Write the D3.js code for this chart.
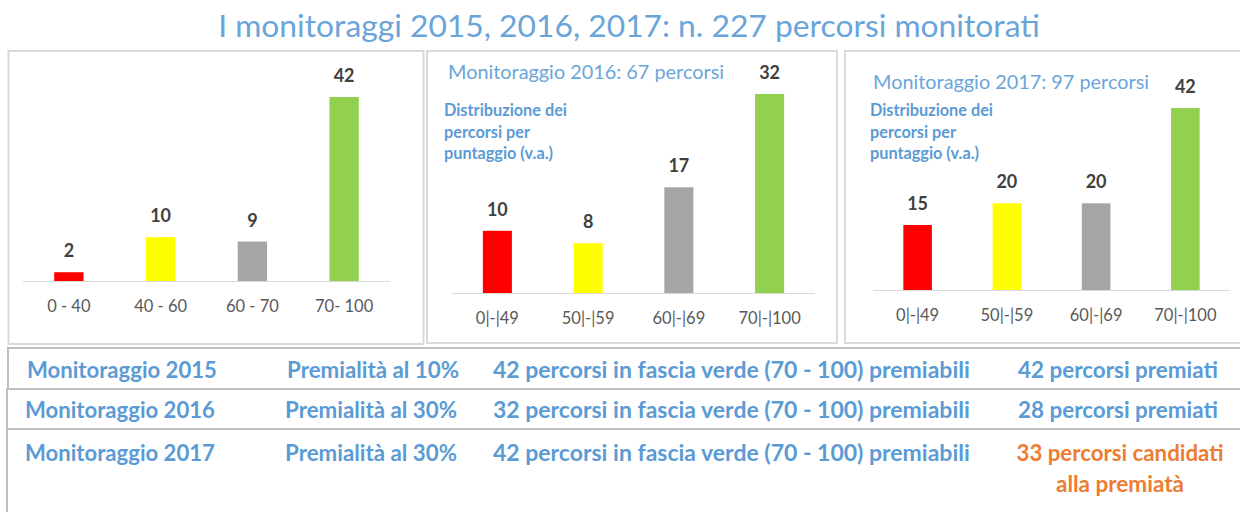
<!DOCTYPE html>
<html>
<head>
<meta charset="utf-8">
<script src="https://cdn.jsdelivr.net/npm/d3@7"></script>
<style>
  body { margin: 0; background: #fff; }
  svg { display: block; font-family: Lato, "Open Sans", sans-serif; }
</style>
</head>
<body>
<svg id="chart" width="1240" height="512"></svg>
<script>
// data
const mainTitle = "I monitoraggi 2015, 2016, 2017: n. 227 percorsi monitorati";
const cats2015 = ["0 - 40", "40 - 60", "60 - 70", "70- 100"];
const vals2015 = [2, 10, 9, 42];
const cats2016 = ["0|-|49", "50|-|59", "60|-|69", "70|-|100"];
const vals2016 = [10, 8, 17, 32];
const cats2017 = ["0|-|49", "50|-|59", "60|-|69", "70|-|100"];
const vals2017 = [15, 20, 20, 42];
const barColors = ["#ff0000", "#ffff00", "#a5a5a5", "#92d050"];
const subtitleLines = ["Distribuzione dei", "percorsi per", "puntaggio (v.a.)"];

const rowYears = ["Monitoraggio 2015", "Monitoraggio 2016", "Monitoraggio 2017"];
const rowPremialita = ["Premialità al 10%", "Premialità al 30%", "Premialità al 30%"];
const rowPremiabili = ["42 percorsi in fascia verde (70 - 100) premiabili",
                       "32 percorsi in fascia verde (70 - 100) premiabili",
                       "42 percorsi in fascia verde (70 - 100) premiabili"];
const rowEsito = [["42 percorsi premiati"], ["28 percorsi premiati"], ["33 percorsi candidati", "alla premiatà"]];

const blue = "#5b9bd5";
const svg = d3.select("#chart");

// shrink/grow font so the text takes the given width
function fit(sel, w) {
    sel.each(function () {
        const t = d3.select(this);
        const fs = parseFloat(t.attr("font-size"));
        const len = this.getComputedTextLength();
        t.attr("font-size", (fs * w / len).toFixed(2));
    });
}

svg.append("text")
    .attr("x", 629).attr("y", 37)
    .attr("text-anchor", "middle")
    .attr("font-size", 30)
    .attr("fill", "#6aa5da")
    .text(mainTitle)
    .call(fit, 822);

// panels
const panels = [
    {box: [8.5, 51, 415, 293], cats: cats2015, vals: vals2015, x0: 23, x1: 390, base: 281, top: 97, max: 42},
    {box: [427, 51, 410, 292], cats: cats2016, vals: vals2016, x0: 452, x1: 815, base: 293, top: 94, max: 32,
        title: "Monitoraggio 2016: 67 percorsi", tx: 448, ty: 79, sx: 444},
    {box: [845, 51, 410, 292], cats: cats2017, vals: vals2017, x0: 873, x1: 1230, base: 290, top: 108, max: 42,
        title: "Monitoraggio 2017: 97 percorsi", tx: 873, ty: 89, sx: 870}
];

panels.forEach(p => {
    const g = svg.append("g");
    g.append("rect")
        .attr("x", p.box[0]).attr("y", p.box[1])
        .attr("width", p.box[2]).attr("height", p.box[3])
        .attr("fill", "#fff")
        .attr("stroke", "#d9d9d9").attr("stroke-width", 2);

    const x = d3.scaleBand().domain(p.cats).range([p.x0, p.x1])
        .paddingInner(0.68).paddingOuter(0.34);
    const y = d3.scaleLinear().domain([0, p.max]).range([p.base, p.top]);

    g.selectAll(".bar").data(p.vals).join("rect")
        .attr("class", "bar")
        .attr("x", (d, i) => x(p.cats[i]))
        .attr("y", d => y(d))
        .attr("width", x.bandwidth())
        .attr("height", d => y(0) - y(d))
        .attr("fill", (d, i) => barColors[i]);

    g.append("line")
        .attr("x1", p.x0).attr("x2", p.x1)
        .attr("y1", p.base + 0.5).attr("y2", p.base + 0.5)
        .attr("stroke", "#d9d9d9").attr("stroke-width", 1);

    g.selectAll(".val").data(p.vals).join("text")
        .attr("class", "val")
        .attr("x", (d, i) => x(p.cats[i]) + x.bandwidth() / 2)
        .attr("y", d => y(d) - 15)
        .attr("text-anchor", "middle")
        .attr("font-size", 18).attr("font-weight", "bold")
        .attr("fill", "#404040")
        .text(d => d);

    g.selectAll(".cat").data(p.cats).join("text")
        .attr("class", "cat")
        .attr("x", d => x(d) + x.bandwidth() / 2)
        .attr("y", p.base + 31)
        .attr("text-anchor", "middle")
        .attr("font-size", 16.5)
        .attr("fill", "#595959")
        .text(d => d);

    if (p.title) {
        g.append("text")
            .attr("x", p.tx).attr("y", p.ty)
            .attr("font-size", 18)
            .attr("fill", "#6aa5da")
            .text(p.title)
            .call(fit, 276);
        const subs = g.selectAll(".sub").data(subtitleLines).join("text")
            .attr("class", "sub")
            .attr("x", p.sx)
            .attr("y", (d, i) => 116 + i * 21.5)
            .attr("font-size", 15).attr("font-weight", "bold")
            .attr("fill", blue)
            .text(d => d);
        // same size for all three lines, set from the first one
        const k = 123 / subs.node().getComputedTextLength();
        subs.attr("font-size", (15 * k).toFixed(2));
    }
});

// table
const rowBoxes = [[8, 348, 41], [7, 389, 40], [7, 429, 110]];
const rowBase = [378, 418, 461];
rowBoxes.forEach(b => {
    svg.append("rect")
        .attr("x", b[0]).attr("y", b[1])
        .attr("width", 1250).attr("height", b[2])
        .attr("fill", "none")
        .attr("stroke", "#bfbfbf").attr("stroke-width", 2);
});

const tfont = 20;
function rowText(list, xs, anchor, w) {
    svg.selectAll(null).data(list).join("text")
        .attr("x", (d, i) => xs[i])
        .attr("y", (d, i) => rowBase[i])
        .attr("text-anchor", anchor)
        .attr("font-size", tfont).attr("font-weight", "bold")
        .attr("fill", blue)
        .text(d => d)
        .call(fit, w);
}
rowText(rowYears, [27, 25, 25], "start", 190);
rowText(rowPremialita, [287, 285, 285], "start", 172);
rowText(rowPremiabili, [493, 493, 493], "start", 477);

rowEsito.forEach((lines, i) => {
    lines.forEach((s, j) => {
        svg.append("text")
            .attr("x", i === 2 ? 1120 : 1118)
            .attr("y", rowBase[i] + j * 31)
            .attr("text-anchor", "middle")
            .attr("font-size", tfont).attr("font-weight", "bold")
            .attr("fill", i === 2 ? "#ed7d31" : blue)
            .text(s)
            .call(fit, i === 2 ? (j === 0 ? 207 : 128) : 200);
    });
});
</script>
</body>
</html>
